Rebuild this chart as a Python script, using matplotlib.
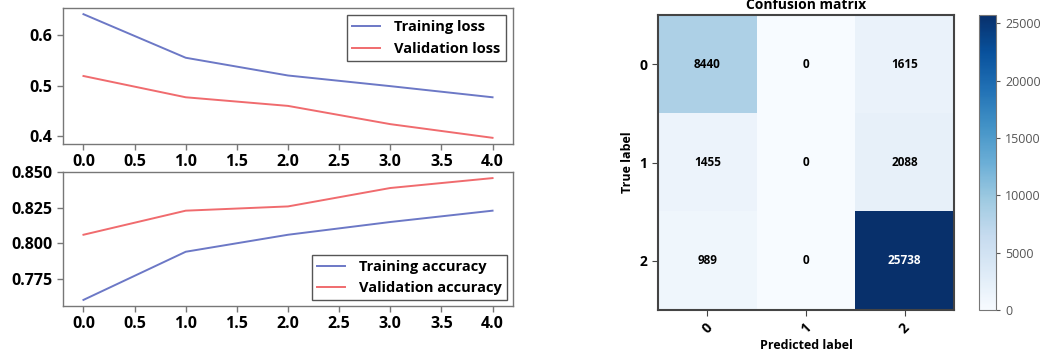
import numpy as np
import matplotlib
matplotlib.use('Agg')
import matplotlib.pyplot as plt

# training history
epochs = [0, 1, 2, 3, 4]
train_loss = [0.641, 0.555, 0.520, 0.499, 0.477]
val_loss = [0.519, 0.477, 0.460, 0.424, 0.397]
train_acc = [0.760, 0.794, 0.806, 0.815, 0.823]
val_acc = [0.806, 0.823, 0.826, 0.839, 0.846]

# confusion matrix
classes = ['0', '1', '2']
cm = np.array([[8440, 0, 1615],
               [1455, 0, 2088],
               [989, 0, 25738]])

W, H = 1058, 356
fig = plt.figure(figsize=(W / 100, H / 100), dpi=100)

def px_axes(x0, y0, x1, y1):
    # pixel box (top-left origin) -> figure fraction
    return fig.add_axes([x0 / W, 1 - y1 / H, (x1 - x0) / W, (y1 - y0) / H])

blue = '#6c78c6'
red = '#f06b6e'
FONT = 'Open Sans'

def style_line_ax(ax):
    for s in ax.spines.values():
        s.set_color('#777777')
        s.set_linewidth(1.0)
    ax.tick_params(colors='#777777', labelcolor='black', length=4, width=1)
    for lab in ax.get_xticklabels() + ax.get_yticklabels():
        lab.set_fontfamily(FONT)
        lab.set_fontweight('bold')
        lab.set_fontsize(11.5)

legend_kw = dict(prop=dict(family=FONT, weight='bold', size=10.5),
                 fancybox=False, edgecolor='#555555', framealpha=1,
                 handlelength=1.9, handletextpad=1.0, borderpad=0.35)

ax1 = px_axes(63, 8, 513, 144)
ax1.plot(epochs, train_loss, color=blue, lw=1.4, label='Training loss')
ax1.plot(epochs, val_loss, color=red, lw=1.4, label='Validation loss')
ax1.set_xticks(np.arange(0, 4.01, 0.5))
ax1.set_yticks([0.4, 0.5, 0.6])
style_line_ax(ax1)
leg = ax1.legend(loc='upper right', borderaxespad=0.5, **legend_kw)
leg.get_frame().set_linewidth(1.0)

ax2 = px_axes(63, 172, 513, 306)
ax2.plot(epochs, train_acc, color=blue, lw=1.4, label='Training accuracy')
ax2.plot(epochs, val_acc, color=red, lw=1.4, label='Validation accuracy')
ax2.set_xticks(np.arange(0, 4.01, 0.5))
ax2.set_yticks([0.775, 0.800, 0.825, 0.850])
style_line_ax(ax2)
leg = ax2.legend(loc='lower right', borderaxespad=0.4, **legend_kw)
leg.get_frame().set_linewidth(1.0)

# confusion matrix panel
ax3 = px_axes(658, 15, 954, 310)
im = ax3.imshow(cm, interpolation='nearest', cmap='Blues', vmin=0, vmax=cm.max(), aspect='auto')
ax3.set_title('Confusion matrix', fontfamily=FONT, fontweight='bold', fontsize=10, pad=4)
ticks = np.arange(len(classes))
ax3.set_xticks(ticks)
ax3.set_xticklabels(classes, rotation=45, fontfamily=FONT, fontweight='bold', fontsize=10)
ax3.set_yticks(ticks)
ax3.set_yticklabels(classes, fontfamily=FONT, fontweight='bold', fontsize=10)
thresh = cm.max() / 2.
for i in range(cm.shape[0]):
    for j in range(cm.shape[1]):
        ax3.text(j, i, format(cm[i, j], 'd'), ha='center', va='center',
                 fontfamily=FONT, fontweight='bold', fontsize=8.5,
                 color='white' if cm[i, j] > thresh else 'black')
ax3.set_ylabel('True label', fontfamily=FONT, fontweight='bold', fontsize=9)
ax3.set_xlabel('Predicted label', fontfamily=FONT, fontweight='bold', fontsize=9, labelpad=2)
for s in ax3.spines.values():
    s.set_color('#444444')
    s.set_linewidth(1.5)
ax3.tick_params(colors='#444444', labelcolor='black', length=4)

cax = px_axes(979, 15, 996, 310)
cb = fig.colorbar(im, cax=cax)
cb.outline.set_edgecolor('#777777')
cb.ax.tick_params(colors='#555555', labelsize=9, length=3)
for lab in cb.ax.get_yticklabels():
    lab.set_fontfamily(FONT)

fig.savefig('out.png', dpi=100)
